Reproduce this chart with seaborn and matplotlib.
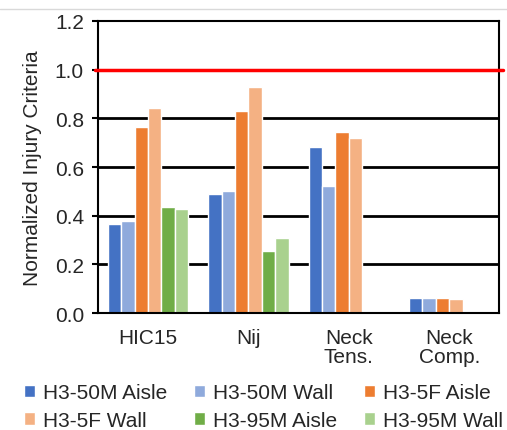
import pandas as pd
import numpy as np
import matplotlib
matplotlib.use("Agg")
import matplotlib.pyplot as plt
import seaborn as sns

categories = ["HIC15", "Nij", "Neck\nTens.", "Neck\nComp."]
series = ["H3-50M Aisle", "H3-50M Wall", "H3-5F Aisle", "H3-5F Wall", "H3-95M Aisle", "H3-95M Wall"]
h3_50m_aisle = [0.367, 0.488, 0.682, 0.064]
h3_50m_wall = [0.377, 0.502, 0.521, 0.064]
h3_5f_aisle = [0.765, 0.830, 0.743, 0.064]
h3_5f_wall = [0.844, 0.927, 0.718, 0.058]
h3_95m_aisle = [0.437, 0.257, np.nan, np.nan]
h3_95m_wall = [0.427, 0.307, np.nan, np.nan]
colors = ["#4472C4", "#8FAADC", "#ED7D31", "#F4B183", "#70AD47", "#A9D18E"]

values = [h3_50m_aisle, h3_50m_wall, h3_5f_aisle, h3_5f_wall, h3_95m_aisle, h3_95m_wall]
rows = []
for s, vals in zip(series, values):
    for c, v in zip(categories, vals):
        rows.append({"category": c, "series": s, "value": v})
df = pd.DataFrame(rows).dropna()

sns.set_style("white")
plt.rcParams["font.family"] = ["Liberation Sans", "DejaVu Sans"]
fs = 15

fig = plt.figure(figsize=(5.07, 4.31), dpi=100)
ax = fig.add_axes([0.193, 0.271, 0.792, 0.678])

sns.barplot(data=df, x="category", y="value", hue="series", order=categories,
            hue_order=series, palette=colors, saturation=1, width=0.8,
            edgecolor="white", linewidth=1.0, ax=ax, legend=True)

ax.set_ylim(0, 1.2)
ax.set_xlim(-0.5, 3.5)
ax.set_yticks(np.arange(0, 1.21, 0.2))
ax.set_yticklabels([f"{t:.1f}" for t in np.arange(0, 1.21, 0.2)], fontsize=fs, color="#262626")
ax.tick_params(axis="x", length=0, labelsize=fs, labelcolor="#262626", pad=11)
ax.tick_params(axis="y", length=4, width=1.5, color="black", direction="out", left=True, pad=6)
for lbl in ax.get_xticklabels():
    lbl.set_linespacing(1.0)
ax.set_xlabel("")
ax.set_ylabel("Normalized Injury Criteria", fontsize=fs, color="#262626", labelpad=9)

for y in [0.2, 0.4, 0.6, 0.8]:
    ax.axhline(y, color="black", lw=2, zorder=0.5)
ax.axhline(1.0, color="#FF0000", lw=2.5, zorder=5, xmin=-0.008, xmax=1.008, clip_on=False)
for sp in ax.spines.values():
    sp.set_visible(True)
    sp.set_color("black")
    sp.set_linewidth(1.5)

# legend in row order like the original
handles, labels = ax.get_legend_handles_labels()
order = [0, 3, 1, 4, 2, 5]
ax.legend([handles[i] for i in order], [labels[i] for i in order], ncol=3,
          loc="upper center", bbox_to_anchor=(0.412, -0.24), frameon=False,
          fontsize=fs, handlelength=0.55, handleheight=0.55, handletextpad=0.35,
          columnspacing=1.3, labelspacing=0.42, borderaxespad=0, borderpad=0)

fig.add_artist(plt.Line2D([0, 1], [0.977, 0.977], color="#d9d9d9", lw=1, transform=fig.transFigure))

fig.savefig("out.png", dpi=100)
